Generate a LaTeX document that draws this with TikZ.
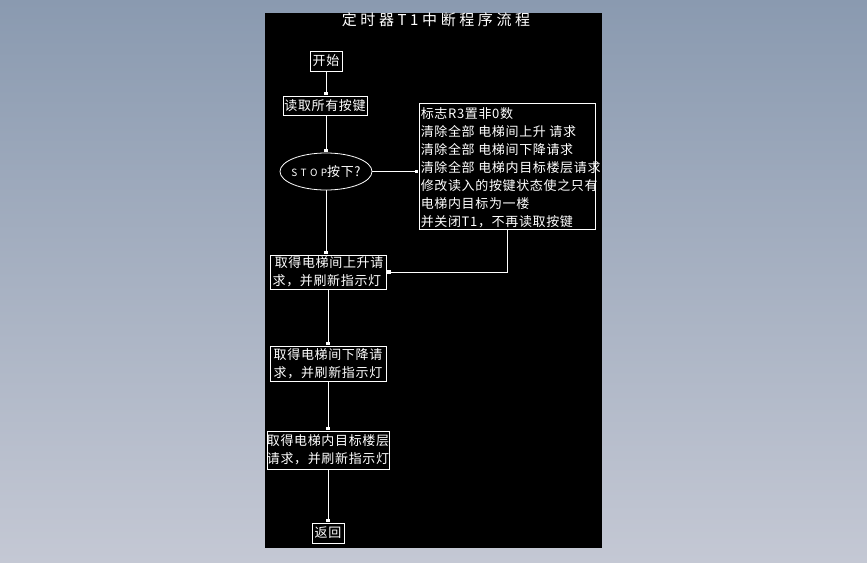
\documentclass[tikz,border=0pt]{standalone}
\usepackage{fontspec}
\usetikzlibrary{arrows.meta,shapes.geometric}
\newfontfamily\cjk[LetterSpace=5]{Noto Sans CJK SC}
\newfontfamily\cjktitle[LetterSpace=24]{Noto Sans CJK SC}
\definecolor{bgtop}{RGB}{138,154,176}
\definecolor{bgbot}{RGB}{196,200,212}
\tikzset{
  box/.style={draw=white, line width=0.8pt, text=white, inner sep=0pt, font=\cjk\fontsize{13}{18}\selectfont, align=left},
  flow/.style={draw=white, line width=0.8pt, -{Square[length=3pt,width=3.5pt]}, shorten >=1pt}
}
\begin{document}
\begin{tikzpicture}[x=1pt,y=-1pt]
\useasboundingbox (0,0) rectangle (867,562);
\shade[top color=bgtop, bottom color=bgbot] (0,0) rectangle (867,562);
\fill[black] (265,13) rectangle (602,548);
\node[text=white, font=\cjktitle\fontsize{15}{15}\selectfont, inner sep=0pt] (title) at (436,20) {定时器T1中断程序流程};
\node[box, minimum width=32pt, minimum height=20pt] (start) at (326,61) {开始};
\node[box, minimum width=84pt, minimum height=19pt] (read) at (325,105.5) {读取所有按键};
\node[box, ellipse, minimum width=92pt, minimum height=37pt] (stop) at (326,171.5) {};
\node[text=white, inner sep=0pt, font=\cjk] (stoptext) at (stop.center) {\fontsize{10}{10}\selectfont S\,\,T\,\,O\,\,P\fontsize{13}{13}\selectfont 按下?};
\node[box, minimum width=176pt, minimum height=126pt] (clear) at (507,166) {};
\node[text=white, inner sep=0pt, anchor=north west, align=left, font=\cjk\fontsize{13}{18}\selectfont] (cleartext) at ([shift={(2,5)}]clear.north west) {标志R3置非0数\\清除全部 电梯间上升 请求\\清除全部 电梯间下降请求\\清除全部 电梯内目标楼层请求\\修改读入的按键状态使之只有\\电梯内目标为一楼\\并关闭T1，不再读取按键};
\node[box, minimum width=116pt, minimum height=34pt] (up) at (328,272) {\,取得电梯间上升请\\求，并刷新指示灯};
\node[box, minimum width=116pt, minimum height=35pt] (down) at (328,363.5) {取得电梯间下降请\\求，并刷新指示灯};
\node[box, minimum width=116pt, minimum height=38pt] (inner) at (328,450) {取得电梯内目标楼层\\请求，并刷新指示灯};
\node[box, minimum width=32pt, minimum height=20pt] (ret) at (328,533) {返回};
\draw[flow] (start.south) -- (start.south |- read.north);
\draw[flow] (read.south -| start.south) -- (stop.north);
\draw[flow] (stop.east) -- (stop.east -| clear.west);
\draw[flow] (stop.south) -- (stop.south |- up.north);
\draw[flow] (clear.south) |- (up.east);
\draw[flow] (up.south) -- (down.north);
\draw[flow] (down.south) -- (inner.north);
\draw[flow] (inner.south) -- (ret.north);
\end{tikzpicture}
\end{document}
